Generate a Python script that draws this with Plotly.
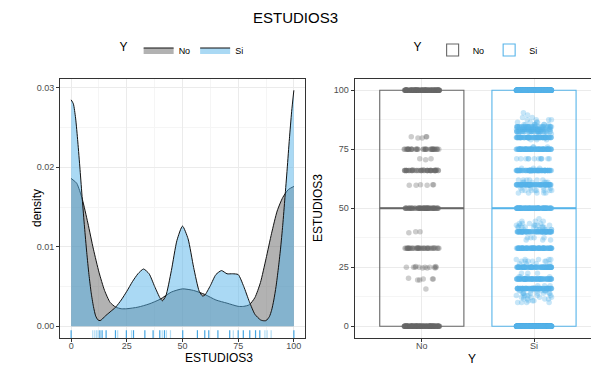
import numpy as np
import plotly.graph_objects as go

# ---------------- data ----------------
groups = ["No", "Si"]

# density curves (x = ESTUDIOS3, y = density)
dens_x_si = [0, 1, 2, 3, 4, 5, 6, 7, 8, 9, 10, 11, 12, 13, 14, 15, 17.5, 20, 22.5, 25,
             27.5, 30, 32.5, 35, 37.5, 40, 41, 42.5, 45, 47.5, 50, 52.5, 55, 57.5, 59,
             60, 62.5, 65, 67.5, 70, 72.5, 75, 77.5, 80, 82.5, 85, 86, 87.5, 89, 90, 91,
             92, 93, 94, 95, 96, 97, 98, 99, 100]
dens_y_si = [0.0285, 0.0280, 0.0262, 0.0232, 0.0197, 0.0160, 0.0125, 0.0093, 0.0065,
             0.0042, 0.0025, 0.0013, 0.0008, 0.0007, 0.0009, 0.0012, 0.0018, 0.0024,
             0.0033, 0.0044, 0.0056, 0.0066, 0.0072, 0.0066, 0.0050, 0.0035, 0.0032,
             0.0038, 0.0070, 0.0108, 0.0126, 0.0110, 0.0074, 0.0044, 0.0038, 0.0039,
             0.0051, 0.0065, 0.0070, 0.0066, 0.0066, 0.0065, 0.0050, 0.0031, 0.0015,
             0.0008, 0.0007, 0.0007, 0.0012, 0.0020, 0.0033, 0.0050, 0.0072, 0.0097,
             0.0127, 0.0162, 0.0198, 0.0236, 0.0270, 0.0297]

dens_x_no = [0, 2.5, 5, 7.5, 10, 12.5, 15, 17.5, 20, 22.5, 25, 30, 35, 40, 45, 50, 55,
             60, 65, 70, 75, 77.5, 80, 82.5, 85, 87.5, 90, 92.5, 95, 97.5, 100]
dens_y_no = [0.0186, 0.0180, 0.0160, 0.0130, 0.0097, 0.0068, 0.0045, 0.0030, 0.0024,
             0.0022, 0.0022, 0.0024, 0.0028, 0.0034, 0.0043, 0.0047, 0.0045, 0.0040,
             0.0033, 0.0029, 0.0025, 0.0025, 0.0027, 0.0036, 0.0055, 0.0085, 0.0117,
             0.0145, 0.0162, 0.0172, 0.0176]

# rug marks
rug_strong = [0, 12.9, 13.9, 15.7, 19.9, 24.8, 28, 33.1, 36.8, 39.8, 41.9, 50.1, 56.7,
              60, 61.8, 65.9, 71.2, 75, 77.3, 80.2, 82.8, 84.7, 100]
rug_faint = [9.7, 10.6, 11.4, 12.1, 20.9, 27.1, 40.9, 42.8, 44.6, 72.8, 87, 88, 89.8]

# box plot raw values: level and number of observations
no_levels = [0, 15.8, 19.6, 20, 20.3, 24.7, 25, 25.3, 33, 33.3, 39.6, 40, 50, 59.7, 60,
             66, 66.3, 70.6, 71, 75, 79.8, 80.3, 100]
no_counts = [150, 1, 2, 3, 1, 3, 8, 2, 40, 2, 1, 2, 70, 3, 3, 45, 3, 1, 2, 40, 2, 3, 150]

si_levels = [0, 10, 10.8, 11.5, 12.3, 13, 14, 15, 16, 17.2, 20, 21, 22.5, 25, 26.5, 27.5,
             28.3, 33, 36.5, 37.5, 40, 41, 42, 42.8, 43.5, 44.5, 45.5, 50, 56.5, 57.5,
             58.5, 60, 61, 62, 66, 67, 71, 75, 76, 79, 80, 81.5, 82.5, 83.5, 84.5, 85.5,
             86.5, 87.5, 88.5, 89.5, 90.5, 100]
si_counts = [700, 4, 3, 4, 5, 6, 8, 8, 90, 3, 90, 4, 3, 100, 4, 6, 5, 100, 3, 4, 90, 8, 8,
             6, 4, 3, 1, 120, 5, 8, 4, 90, 6, 6, 100, 3, 12, 100, 3, 3, 90, 4, 40, 40, 40,
             8, 4, 4, 2, 1, 1, 700]

# ---------------- styling ----------------
FONT = "Liberation Sans"
GRAY = "#666666"
BLUE = "#56B4E9"
W, H = 591, 372

no_vals = np.repeat(no_levels, no_counts)
si_vals = np.repeat(si_levels, si_counts)
box_data = {"No": no_vals, "Si": si_vals}
line_col = {"No": GRAY, "Si": BLUE}
pt_col = {"No": "rgba(102,102,102,0.33)", "Si": "rgba(86,180,233,0.33)"}
box_width = 0.75

fig = go.Figure()

# left panel: densities
fig.add_trace(go.Scatter(
    x=dens_x_no, y=dens_y_no, mode="lines", name="No",
    line=dict(color="#111111", width=1, shape="spline", smoothing=0.6),
    fill="tozeroy", fillcolor="rgba(102,102,102,0.5)",
    xaxis="x", yaxis="y", legend="legend", hoverinfo="skip"))
fig.add_trace(go.Scatter(
    x=dens_x_si, y=dens_y_si, mode="lines", name="Si",
    line=dict(color="#111111", width=1, shape="spline", smoothing=0.6),
    fill="tozeroy", fillcolor="rgba(86,180,233,0.5)",
    xaxis="x", yaxis="y", legend="legend", hoverinfo="skip"))

# right panel: boxes with jittered points
for i, g in enumerate(groups):
    pos = i + 1
    fig.add_trace(go.Box(
        y=box_data[g], x0=pos, name=g, width=box_width,
        boxpoints="all", jitter=0.42, pointpos=0,
        marker=dict(color=pt_col[g], size=5.5, line=dict(width=0)),
        line=dict(color=line_col[g], width=1.1), fillcolor="rgba(0,0,0,0)",
        whiskerwidth=0, xaxis="x2", yaxis="y2", legend="legend2", hoverinfo="skip"))
    med = float(np.median(box_data[g]))
    fig.add_trace(go.Scatter(
        x=[pos - box_width / 2, pos + box_width / 2], y=[med, med], mode="lines",
        line=dict(color=line_col[g], width=2.2), showlegend=False,
        xaxis="x2", yaxis="y2", hoverinfo="skip"))

# rug as shapes
shapes = []
for v in rug_faint:
    shapes.append(dict(type="line", xref="x", yref="y domain", x0=v, x1=v, y0=0, y1=0.03,
                       line=dict(color="rgba(86,180,233,0.45)", width=1.2)))
for v in rug_strong:
    shapes.append(dict(type="line", xref="x", yref="y domain", x0=v, x1=v, y0=0, y1=0.03,
                       line=dict(color="rgba(70,165,225,1)", width=1.2)))

ymax = max(max(dens_y_si), max(dens_y_no))
ypad = ymax * 0.05

tickfont = dict(family=FONT, size=9, color="#4D4D4D")
common = dict(showgrid=True, gridcolor="#EBEBEB", gridwidth=1, zeroline=False,
              ticks="outside", ticklen=3, tickcolor="#333333", tickfont=tickfont,
              showline=True, linecolor="#333333", linewidth=1)

ydom = [34 / H, 293.5 / H]
legtitle = dict(text="Y ", side="left", font=dict(size=12, family=FONT))
fig.update_layout(
    width=W, height=H, margin=dict(l=0, r=0, t=0, b=0),
    paper_bgcolor="white", plot_bgcolor="white",
    font=dict(family=FONT, color="#000000"),
    xaxis=dict(domain=[60 / W, 305 / W], range=[-5, 105], tickvals=[0, 25, 50, 75, 100],
               mirror=True, anchor="y", ticklabelstandoff=-4,
               minor=dict(tickvals=[12.5, 37.5, 62.5, 87.5], showgrid=True,
                          gridcolor="#F5F5F5", ticks=""),
               **common),
    yaxis=dict(domain=ydom, range=[-ypad, ymax + ypad], tickvals=[0, 0.01, 0.02, 0.03],
               tickformat=".2f", mirror=True, anchor="x",
               minor=dict(tickvals=[0.005, 0.015, 0.025], showgrid=True,
                          gridcolor="#F5F5F5", ticks=""),
               **common),
    xaxis2=dict(domain=[354.5 / W, 1.0], range=[0.4, 2.508], tickvals=[1, 2],
                ticktext=groups, mirror=True, anchor="y2", ticklabelstandoff=-4, **common),
    yaxis2=dict(domain=ydom, range=[-5, 105], tickvals=[0, 25, 50, 75, 100],
                anchor="x2",
                minor=dict(tickvals=[12.5, 37.5, 62.5, 87.5], showgrid=True,
                           gridcolor="#F5F5F5", ticks=""),
                **common),
    legend=dict(orientation="h", x=183 / W, xanchor="center", y=(H - 50) / H,
                yanchor="middle", title=legtitle,
                font=dict(size=9, family=FONT), itemwidth=30, bgcolor="rgba(0,0,0,0)"),
    legend2=dict(orientation="h", x=477 / W, xanchor="center", y=(H - 50) / H,
                 yanchor="middle", title=legtitle,
                 font=dict(size=9, family=FONT), itemwidth=30, bgcolor="rgba(0,0,0,0)"),
    shapes=shapes,
    annotations=[
        dict(text="ESTUDIOS3", x=0.5, y=(H - 18) / H, xref="paper", yref="paper",
             showarrow=False, font=dict(size=15, family=FONT), yanchor="middle"),
        dict(text="density", x=28 / W, y=(H - 208) / H, xref="paper", yref="paper",
             showarrow=False, textangle=-90, font=dict(size=12, family=FONT)),
        dict(text="ESTUDIOS3", x=182.5 / W, y=(H - 358) / H, xref="paper", yref="paper",
             showarrow=False, font=dict(size=12, family=FONT), yanchor="middle"),
        dict(text="ESTUDIOS3", x=318 / W, y=(H - 208) / H, xref="paper", yref="paper",
             showarrow=False, textangle=-90, font=dict(size=12, family=FONT)),
        dict(text="Y", x=478 / W, y=(H - 359) / H, xref="paper", yref="paper",
             showarrow=False, font=dict(size=12, family=FONT), yanchor="middle"),
    ],
)

fig.write_html("out.html")
